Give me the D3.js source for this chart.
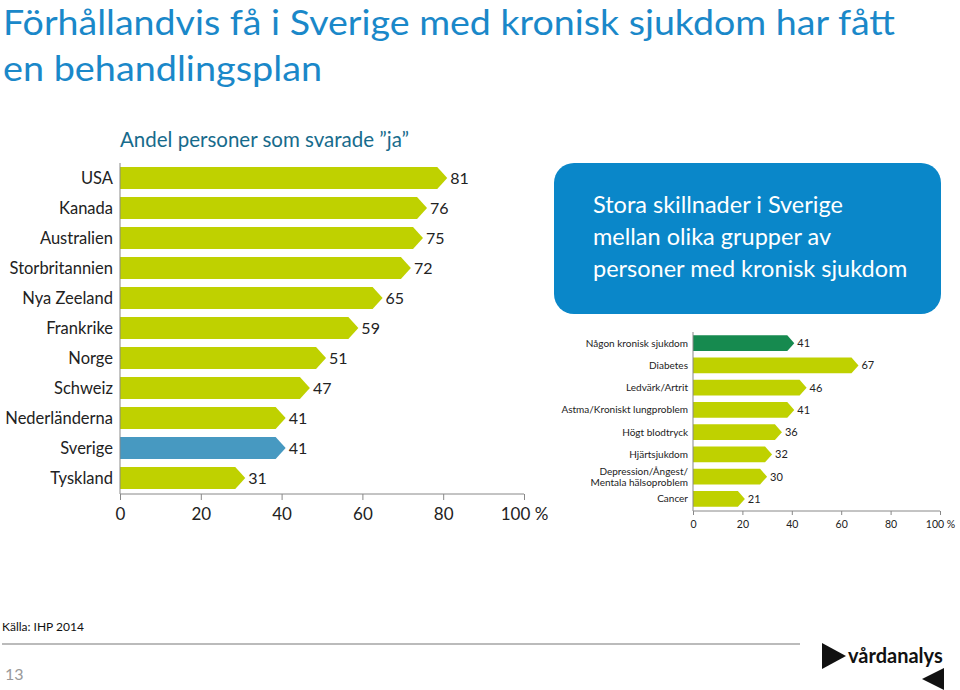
<!DOCTYPE html>
<html><head><meta charset="utf-8">
<script src="https://cdn.jsdelivr.net/npm/d3@7"></script>
<style>
html,body{margin:0;padding:0;background:#fff;}
svg{display:block;font-family:Lato,"Open Sans",sans-serif;}
</style></head>
<body>
<svg id="c" width="960" height="690"></svg>
<script>
const countries = ["USA","Kanada","Australien","Storbritannien","Nya Zeeland","Frankrike","Norge","Schweiz","Nederländerna","Sverige","Tyskland"];
const countryValues = [81,76,75,72,65,59,51,47,41,41,31];
const highlightCountry = "Sverige";
const groups = ["Någon kronisk sjukdom","Diabetes","Ledvärk/Artrit","Astma/Kroniskt lungproblem","Högt blodtryck","Hjärtsjukdom","Depression/Ångest/|Mentala hälsoproblem","Cancer"];
const groupValues = [41,67,46,41,36,32,30,21];
const highlightGroup = "Någon kronisk sjukdom";
const tickValues = [0,20,40,60,80,100];

const GREEN = "#bfd100", BLUE = "#4799c1", DKGREEN = "#168a4f";
const svg = d3.select("#c");

// Title
const title = svg.append("g").attr("fill","#1a88c9").style("font-size","34px");
title.append("text").attr("x",3).attr("y",35).attr("textLength",892).attr("lengthAdjust","spacingAndGlyphs").text("Förhållandvis få i Sverige med kronisk sjukdom har fått");
title.append("text").attr("x",3).attr("y",81).attr("textLength",319).attr("lengthAdjust","spacingAndGlyphs").text("en behandlingsplan");
svg.append("text").attr("x",120).attr("y",147).attr("fill","#176b8c").style("font-size","20.5px").text("Andel personer som svarade ”ja”");

function arrow(x0, x1, y, h, tip){
  return `M${x0},${y}H${x1-tip}L${x1},${y+h/2}L${x1-tip},${y+h}H${x0}Z`;
}

// Main chart
{
  const x = d3.scaleLinear().domain([0,100]).range([120,524]);
  const y = d3.scaleBand().domain(countries).range([163,493]).paddingInner(0.27).paddingOuter(0.135);
  const g = svg.append("g");
  const data = countries.map((c,i)=>({c, v:countryValues[i]}));
  g.selectAll("path.bar").data(data).join("path").attr("class","bar")
    .attr("d",d=>arrow(x(0), x(d.v), y(d.c), y.bandwidth(), 10))
    .attr("fill",d=>d.c===highlightCountry?BLUE:GREEN);
  g.selectAll("text.val").data(data).join("text").attr("class","val")
    .attr("x",d=>x(d.v)+3).attr("y",d=>y(d.c)+y.bandwidth()/2).attr("dy","0.36em")
    .attr("fill","#222").style("font-size","16px").text(d=>d.v);
  g.selectAll("text.cat").data(data).join("text").attr("class","cat")
    .attr("x",113).attr("y",d=>y(d.c)+y.bandwidth()/2).attr("dy","0.36em")
    .attr("text-anchor","end").attr("fill","#222").style("font-size","16.5px").text(d=>d.c);
  const ax = g.append("g").attr("transform","translate(0,494)")
    .call(d3.axisBottom(x).tickValues(tickValues).tickSize(6).tickPadding(8).tickFormat(d=>d===100?"100 %":d));
  ax.select(".domain").attr("stroke","#888").attr("d","M120,0H524");
  ax.selectAll(".tick line").attr("stroke","#888");
  ax.selectAll(".tick text").attr("fill","#222").style("font-size","17px").style("font-family","Lato,'Open Sans',sans-serif");
  g.append("line").attr("x1",120).attr("x2",120).attr("y1",163).attr("y2",494).attr("stroke","#888");
}

// Blue box
svg.append("rect").attr("x",554).attr("y",163).attr("width",387).attr("height",151).attr("rx",20).attr("fill","#0a87c9");
const bt = svg.append("g").attr("fill","#fff").style("font-size","23.5px");
["Stora skillnader i Sverige","mellan olika grupper av","personer med kronisk sjukdom"].forEach((t,i)=>{
  bt.append("text").attr("x",593).attr("y",213+i*32).text(t);
});

// Right chart
{
  const x = d3.scaleLinear().domain([0,100]).range([693,940]);
  const y = d3.scaleBand().domain(groups).range([332,510]).paddingInner(0.3).paddingOuter(0.15);
  const g = svg.append("g");
  const data = groups.map((c,i)=>({c, v:groupValues[i]}));
  g.selectAll("path.bar").data(data).join("path").attr("class","bar")
    .attr("d",d=>arrow(x(0), x(d.v), y(d.c), y.bandwidth(), 7))
    .attr("fill",d=>d.c===highlightGroup?DKGREEN:GREEN);
  g.selectAll("text.val").data(data).join("text").attr("class","val")
    .attr("x",d=>x(d.v)+3).attr("y",d=>y(d.c)+y.bandwidth()/2).attr("dy","0.36em")
    .attr("fill","#222").style("font-size","11px").text(d=>d.v);
  const cat = g.selectAll("text.cat").data(data).join("text").attr("class","cat")
    .attr("text-anchor","end").attr("fill","#222").style("font-size","10px");
  cat.each(function(d){
    const parts = d.c.split("|");
    const cy = y(d.c)+y.bandwidth()/2;
    const t = d3.select(this);
    parts.forEach((p,i)=>{
      t.append("tspan").attr("x",688).attr("y",cy + (i-(parts.length-1)/2)*11).attr("dy","0.36em").text(p);
    });
  });
  const ax = g.append("g").attr("transform","translate(0,511)")
    .call(d3.axisBottom(x).tickValues(tickValues).tickSize(4).tickPadding(6).tickFormat(d=>d===100?"100 %":d));
  ax.select(".domain").attr("stroke","#888").attr("d","M693,0H940");
  ax.selectAll(".tick line").attr("stroke","#888");
  ax.selectAll(".tick text").attr("fill","#222").style("font-size","10.5px").style("font-family","Lato,'Open Sans',sans-serif");
  g.append("line").attr("x1",693).attr("x2",693).attr("y1",332).attr("y2",511).attr("stroke","#888");
}

// Footer
svg.append("text").attr("x",2).attr("y",631).attr("fill","#111").style("font-size","12px").text("Källa: IHP 2014");
svg.append("line").attr("x1",2).attr("x2",800).attr("y1",644).attr("y2",644).attr("stroke","#bbb").attr("stroke-width",2);
svg.append("text").attr("x",5).attr("y",680).attr("fill","#999").style("font-size","16px").text("13");
// Logo
svg.append("path").attr("d","M822,643L846,656L822,669Z").attr("fill","#111");
svg.append("text").attr("x",848).attr("y",663).attr("fill","#111").style("font-size","20px").style("font-weight","bold").text("vårdanalys");
svg.append("path").attr("d","M944,668L944,690L922,679Z").attr("fill","#111");
</script>
</body></html>
